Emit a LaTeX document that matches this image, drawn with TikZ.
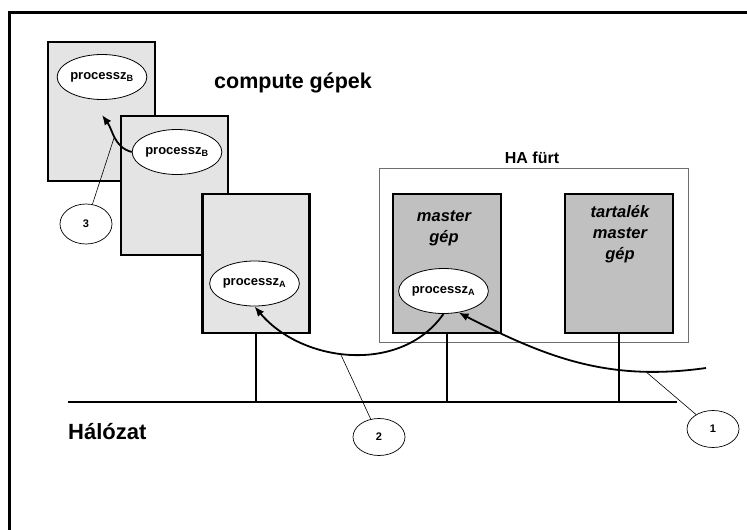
\documentclass[tikz,border=0pt]{standalone}
\usepackage{fontspec}
\setmainfont{Liberation Sans}
\usetikzlibrary{shapes.geometric,arrows.meta}

\definecolor{lightbox}{RGB}{228,228,228}
\definecolor{darkbox}{RGB}{192,192,192}
\definecolor{clusterline}{RGB}{110,110,110}

\begin{document}
\begin{tikzpicture}[x=1pt,y=-1pt,>={Latex[length=10pt,width=8pt]}]
        \tikzstyle{every node}=[font=\bfseries,inner sep=0pt]
        \tikzstyle{machine}=[draw,line width=2.6pt,minimum width=107pt,minimum height=139pt,fill=lightbox]
        \tikzstyle{proc}=[draw,ellipse,line width=0.8pt,fill=white,minimum width=79pt,minimum height=45pt,font=\bfseries\fontsize{13}{15}\selectfont]
        \tikzstyle{num}=[draw,ellipse,line width=0.7pt,minimum width=52pt,minimum height=37pt,font=\bfseries\fontsize{11}{13}\selectfont]
        \tikzstyle{role}=[align=center,font=\bfseries\itshape\fontsize{16.5}{21}\selectfont]
        \tikzstyle{flow}=[->,line width=1.8pt]
        \tikzstyle{hint}=[line width=0.6pt]
        \tikzstyle{drop}=[line width=1.5pt]

        \useasboundingbox (0,0) rectangle (747,530);
        \draw[line width=3pt] (747,12) -| (9,530);

        % compute machines
        \node[machine] (gepB1) at (101.5,111.5) {};
        \node[proc] (pB1) at (102,77) {processz\textsubscript{B}};
        \node[machine] (gepB2) at (174.5,185.5) {};
        \node[proc] (pB2) at (177,152) {processz\textsubscript{B}};
        \node[machine] (gepA) at (256,263.5) {};
        \node[proc] (pA) at (254.5,283.5) {processz\textsubscript{A}};
        \node[anchor=west,font=\bfseries\fontsize{21.5}{24}\selectfont] (compute) at (214,83) {compute gépek};

        % HA cluster
        \node[draw=clusterline,line width=1pt,minimum width=309pt,minimum height=174pt] (ha) at (533.5,255) {};
        \node[font=\bfseries\fontsize{16}{18}\selectfont] (halabel) at (532,158) {HA fürt};
        \node[machine,fill=darkbox,minimum width=108pt] (master) at (447,263.5) {};
        \node[role] (mastertext) at (444,228.5) {master\\gép};
        \node[proc] (pAm) at (443.5,291) {processz\textsubscript{A}};
        \node[machine,fill=darkbox,minimum width=108pt] (backup) at (619,263.5) {};
        \node[role] (backuptext) at (620,234) {tartalék\\master\\gép};

        % network
        \coordinate (netW) at (68,402);
        \coordinate (netE) at (677,402);
        \draw[line width=2pt] (netW) -- (netE);
        \node[anchor=west,font=\bfseries\fontsize{22}{24}\selectfont] (network) at (68,432) {Hálózat};
        \draw[drop] (gepA.south) -- (gepA.south |- netW);
        \draw[drop] (master.south) -- (master.south |- netW);
        \draw[drop] (backup.south) -- (backup.south |- netW);

        % process moves
        \coordinate (outside) at (706,368);
        \coordinate (tipB) at (102,115);
        \draw[flow] (outside) to[out=188,in=-27] coordinate[pos=0.22] (c1) (pAm.-55);
        \draw[flow] (pAm.south) to[out=235,in=-50] coordinate[pos=0.55] (c2) (pA.south);
        \draw[flow] (pB2.west) to[out=165,in=-54] coordinate[pos=0.5] (c3) (tipB);

        % numbered labels
        \node[num] (n1) at (713,429) {1};
        \node[num] (n2) at (379,437) {2};
        \node[num,minimum height=40pt] (n3) at (86,224) {3};
        \draw[hint] (c1) -- (n1);
        \draw[hint] (c2) -- (n2);
        \draw[hint] (c3) -- (n3);

    \end{tikzpicture}
\end{document}
